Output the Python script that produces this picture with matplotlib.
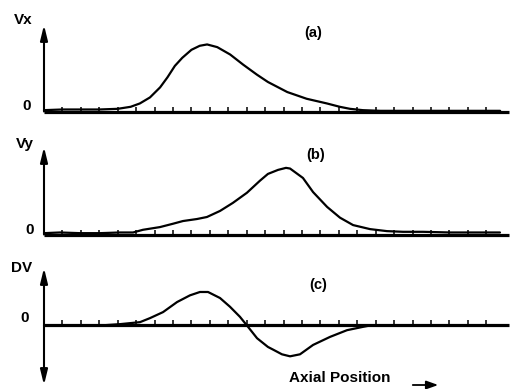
import matplotlib
matplotlib.use("Agg")
import matplotlib.pyplot as plt

W, H = 518, 389

# ---- data (axial position in tick units, amplitude in arbitrary units) ----
vx_pos = [0.0, 1.0, 2.0, 3.0, 4.0, 4.7, 5.2, 5.75, 6.3, 6.7, 7.1, 7.5, 8.0, 8.45,
          8.85, 9.4, 10.1, 10.8, 11.55, 12.15, 13.2, 14.25, 15.35, 16.05, 16.6,
          17.3, 18.25, 19.3, 20.95, 22.6, 24.2, 24.75]
vx_val = [0.02, 0.03, 0.03, 0.03, 0.04, 0.07, 0.12, 0.21, 0.36, 0.51, 0.68, 0.80,
          0.92, 0.98, 1.0, 0.96, 0.85, 0.70, 0.55, 0.44, 0.29, 0.19, 0.12, 0.07,
          0.04, 0.02, 0.01, 0.01, 0.01, 0.01, 0.01, 0.01]

vy_pos = [0.0, 0.87, 1.95, 3.04, 4.12, 4.83, 5.37, 6.29, 7.0, 7.54, 8.3, 8.84,
          9.55, 10.25, 11.01, 11.72, 12.15, 12.7, 13.13, 13.35, 14.05, 14.6,
          15.36, 16.06, 16.77, 17.69, 18.61, 19.48, 20.56, 22.03, 23.66, 24.74]
vy_val = [0.02, 0.03, 0.02, 0.02, 0.03, 0.03, 0.07, 0.11, 0.16, 0.20, 0.23, 0.26,
          0.35, 0.47, 0.62, 0.80, 0.90, 0.96, 0.99, 0.98, 0.84, 0.63, 0.41, 0.25,
          0.14, 0.08, 0.05, 0.04, 0.04, 0.03, 0.03, 0.03]

dv_pos = [0.0, 3.04, 4.12, 5.21, 5.75, 6.46, 7.22, 7.92, 8.46, 8.9, 9.55, 10.09,
          10.63, 11.07, 11.56, 12.15, 12.43, 12.91, 13.35, 13.89, 14.6, 15.52,
          16.44, 17.31, 17.69]
dv_val = [0.0, 0.0, 0.02, 0.05, 0.11, 0.20, 0.35, 0.45, 0.50, 0.50, 0.41, 0.28,
          0.13, -0.02, -0.19, -0.32, -0.36, -0.43, -0.46, -0.43, -0.29, -0.17,
          -0.07, -0.02, 0.0]

tick_positions = list(range(1, 25))
panel_labels = ["(a)", "(b)", "(c)"]
axis_names = ["Vx", "Vy", "DV"]
xlabel = "Axial Position"

FONT = "Liberation Sans"

fig = plt.figure(figsize=(W / 100, H / 100), dpi=100)
fig.patch.set_facecolor("white")


def px_box(left, right, top, bottom):
    return [left / W, 1 - bottom / H, (right - left) / W, (bottom - top) / H]


def fx(x):
    return x / W


def fy(y):
    return 1 - y / H


XMAX = 25.23
AX_L, AX_R = 44, 509

panels = [
    dict(box=(25, 111.5), ylim=(0, 1.29), pos=vx_pos, val=vx_val, double=False),
    dict(box=(147, 234.5), ylim=(0, 1.30), pos=vy_pos, val=vy_val, double=False),
    dict(box=(268, 385), ylim=(-0.888, 0.858), pos=dv_pos, val=dv_val, double=True),
]

for p in panels:
    top, bottom = p["box"]
    ax = fig.add_axes(px_box(AX_L, AX_R, top, bottom))
    ax.set_facecolor("none")
    ax.set_xlim(0, XMAX)
    ax.set_ylim(*p["ylim"])
    for s in ["top", "right", "left"]:
        ax.spines[s].set_visible(False)
    ax.spines["bottom"].set_position(("data", 0))
    ax.spines["bottom"].set_linewidth(2.3)
    ax.spines["bottom"].set_capstyle("butt")
    ax.set_xticks(tick_positions)
    ax.set_xticklabels([])
    ax.tick_params(axis="x", direction="in", length=3.5, width=1.1, color="black")
    ax.set_yticks([])
    ax.plot(p["pos"], p["val"], color="black", lw=1.6, clip_on=False,
            solid_joinstyle="round", solid_capstyle="round")
    ylo, yhi = p["ylim"]
    style = "-|>,head_length=0.9,head_width=0.22"
    if p["double"]:
        style = "<|-|>,head_length=0.9,head_width=0.22"
        start = ylo
    else:
        start = 0
    ax.annotate("", xy=(0, yhi), xytext=(0, start),
                arrowprops=dict(arrowstyle=style, lw=1.5, color="black",
                                mutation_scale=10, shrinkA=0, shrinkB=0),
                annotation_clip=False)

# texts
txt = dict(fontfamily=FONT, fontweight="bold", color="black",
           ha="center", va="center")
fig.text(fx(23), fy(20), axis_names[0], fontsize=11, **txt)
fig.text(fx(25), fy(144), axis_names[1], fontsize=11, **txt)
fig.text(fx(22), fy(267.5), axis_names[2], fontsize=11, **txt)
fig.text(fx(26.5), fy(106), "0", fontsize=11, **txt)
fig.text(fx(30), fy(230), "0", fontsize=11, **txt)
fig.text(fx(25), fy(318.5), "0", fontsize=11, **txt)
fig.text(fx(313), fy(32.5), panel_labels[0], fontsize=10.5, **txt)
fig.text(fx(316), fy(155), panel_labels[1], fontsize=10.5, **txt)
fig.text(fx(318), fy(285.5), panel_labels[2], fontsize=10.5, **txt)
fig.text(fx(339.5), fy(378.5), xlabel, fontsize=11, **txt)
fig.patches.append(matplotlib.patches.FancyArrowPatch(
    (fx(410), fy(385)), (fx(441), fy(385)), transform=fig.transFigure,
    arrowstyle="-|>,head_length=0.7,head_width=0.25", mutation_scale=10,
    lw=1.3, color="black"))

fig.savefig("out.png", dpi=100, facecolor="white")
